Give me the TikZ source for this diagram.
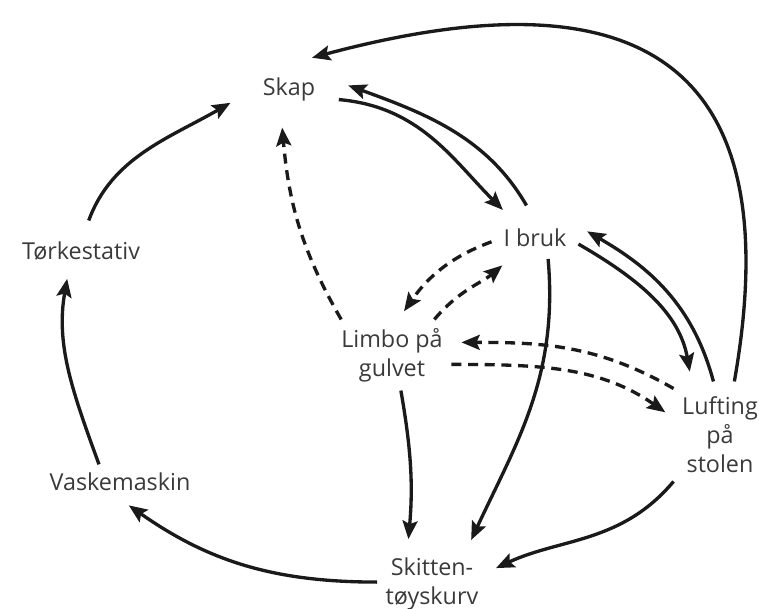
\documentclass[tikz,border=0pt]{standalone}
\usepackage{fontspec}
\setmainfont{Open Sans}
\usepackage{tikz}
\usetikzlibrary{arrows.meta}
\definecolor{ink}{HTML}{1A1A1A}
\definecolor{label}{HTML}{3A3A3A}
\tikzstyle{state}=[align=center,inner sep=5pt,text=label,font=\fontsize{14}{17.5}\selectfont]
\tikzstyle{flow}=[draw,ink,line width=2pt,shorten >=6pt,-{Stealth[length=11pt,width=9pt,inset=2pt]}]
\tikzstyle{maybe}=[flow,dash pattern=on 6pt off 4pt]

\begin{document}
\begin{tikzpicture}[x=0.6pt,y=0.6pt]
	\useasboundingbox (0,0) rectangle (759,608);

	\node[state,inner xsep=14pt,inner ysep=10pt] (skap) at (289,519) {Skap};
	\node[state,inner sep=7pt] (ibruk) at (535,370) {I bruk};
	\node[state] (torke) at (81,357) {Tørkestativ};
	\node[state] (limbo) at (392,253) {Limbo på\\gulvet};
	\node[state,inner ysep=9pt] (lufting) at (720,173) {Lufting\\på\\stolen};
	\node[state] (vask) at (120,126) {Vaskemaskin};
	\node[state] (skitten) at (432,24) {Skitten-\\tøyskurv};

	% hovedflyt
	\draw[flow] (skap.-12) to[out=-5,in=135] (ibruk.140);
	\draw[flow,shorten <=8pt] (ibruk.95) to[out=120,in=-20] (skap.8);
	\draw[flow] (ibruk.-8) to[out=-30,in=100] (lufting.118);
	\draw[flow] (lufting.97) to[out=105,in=-30] (ibruk.15);
	\draw[flow] (lufting.75) to[out=80,in=15,looseness=1.6] (skap.65);
	\draw[flow] (ibruk.-58) to[out=-85,in=65] (skitten.45);
	\draw[flow] (lufting.-135) to[out=-130,in=25] (skitten.12);
	\draw[flow] (limbo.-76) to[out=-80,in=85] (skitten.125);

	% vask
	\draw[flow] (skitten.178) to[out=180,in=-35] (vask.-88);
	\draw[flow] (vask.140) to[out=110,in=-100] (torke.236);
	\draw[flow,shorten <=8pt] (torke.80) to[out=70,in=-150] (skap.190);

	% limbo
	\draw[maybe] (limbo.145) to[out=120,in=-85] (skap.255);
	\draw[maybe] (ibruk.185) to[out=200,in=55] (limbo.80);
	\draw[maybe] (limbo.40) to[out=50,in=-140] (ibruk.220);
	\draw[maybe] (lufting.135) to[out=150,in=0] (limbo.12);
	\draw[maybe] (limbo.-9) to[out=0,in=145] (lufting.160);

\end{tikzpicture}
\end{document}
